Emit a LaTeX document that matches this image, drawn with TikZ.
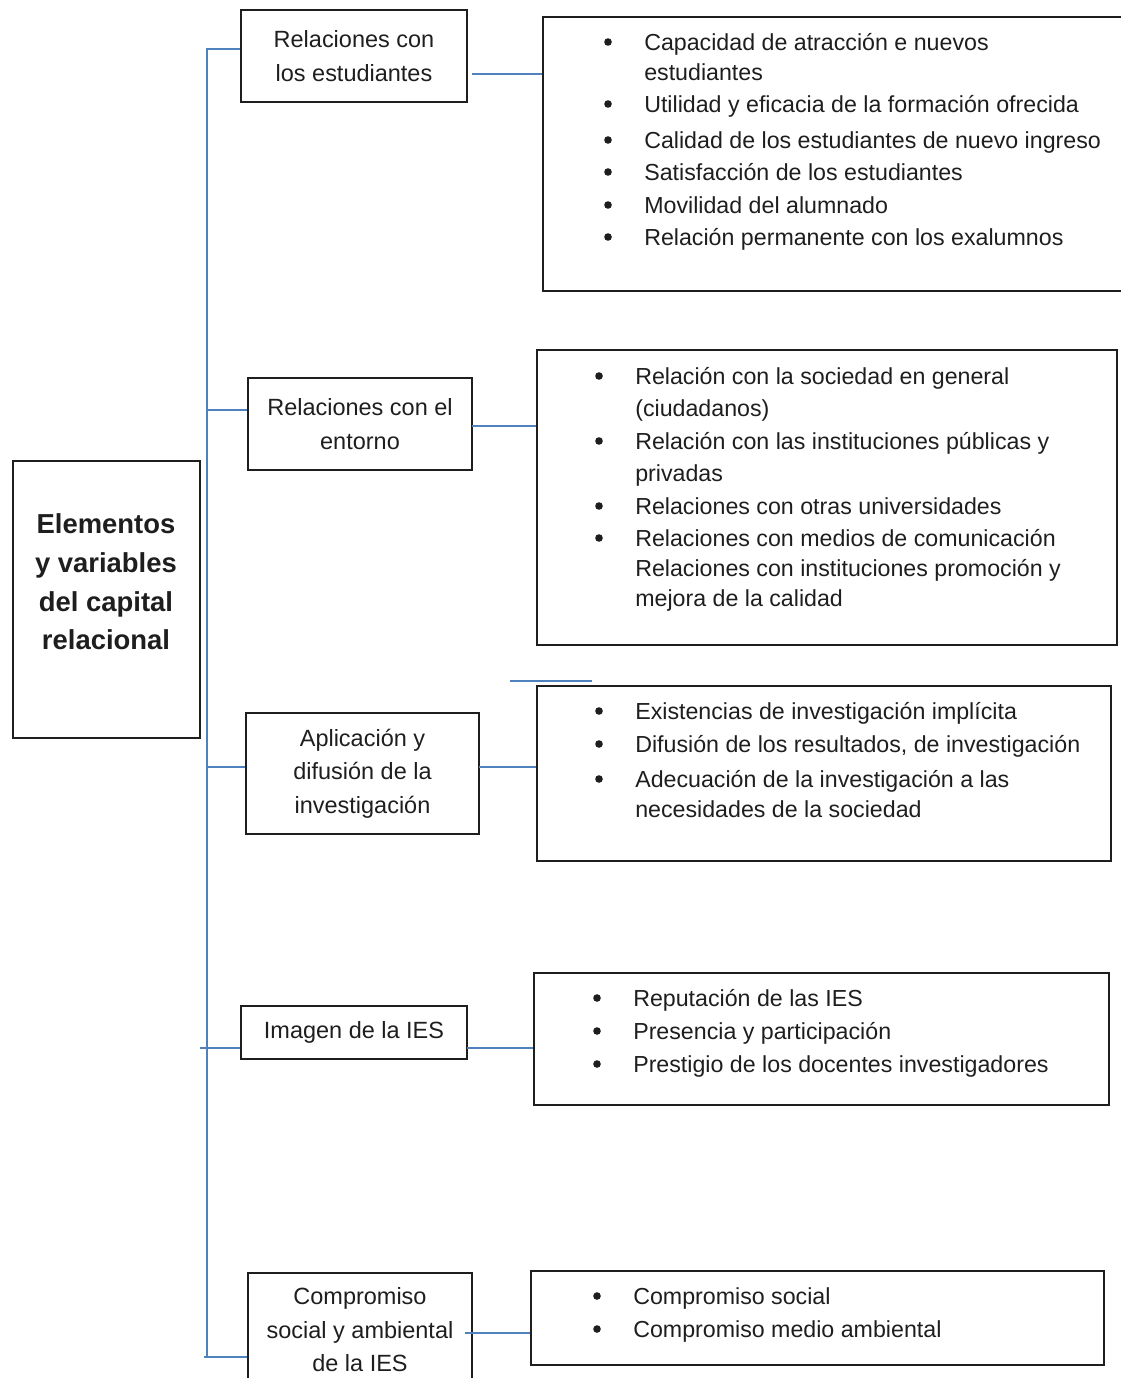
\documentclass[tikz,border=0pt]{standalone}
\usepackage{fontspec}
\setmainfont{Liberation Sans}
\usetikzlibrary{calc}

\definecolor{blueline}{RGB}{79,129,189}
\definecolor{ink}{RGB}{30,30,30}

\begin{document}
\begin{tikzpicture}[x=0.025cm, y=-0.025cm]
  % --- Stili ---
  \tikzset{
    box/.style={draw=ink, line width=1.4pt, align=center, inner sep=0pt, text=ink,
      font=\fontsize{16.7}{23.8}\selectfont},
    mainbox/.style={draw=ink, line width=1.4pt, inner sep=0pt},
    mainlabel/.style={align=center, inner sep=0pt, text=ink,
      font=\fontsize{19.5}{27.5}\selectfont\bfseries},
    list/.style={draw=ink, line width=1.4pt, inner sep=0pt},
    item/.style={anchor=mid west, inner sep=0pt, text=ink, yshift=-0.12cm,
      font=\fontsize{16.5}{20}\selectfont},
    link/.style={draw=blueline, line width=1.4pt},
  }
  \useasboundingbox (0,0) rectangle (1120,1378);

  % --- Blocco principale ---
  \node[mainbox, minimum width=4.675cm, minimum height=6.925cm] (main) at (106.5,599.5) {};
  \node[mainlabel] (mainlbl) at (106,582) {Elementos\\y variables\\del capital\\relacional};

  % --- Dimensioni ---
  \node[box, minimum width=5.65cm, minimum height=2.3cm] (b1) at (354,56) {Relaciones con\\los estudiantes};
  \node[box, minimum width=5.6cm, minimum height=2.3cm] (b2) at (360,424) {Relaciones con el\\entorno};
  \node[box, minimum width=5.825cm, minimum height=3.025cm] (b3) at (362.5,773.5) {Aplicación y\\difusión de la\\investigación};
  \node[box, minimum width=5.65cm, minimum height=1.325cm] (b4) at (354,1032.5) {Imagen de la IES};
  \node[box, minimum width=5.6cm, minimum height=2.85cm] (b5) at (360,1330) {Compromiso\\social y ambiental\\de la IES};

  % --- Riquadri delle variabili ---
  \node[list, minimum width=14.675cm, minimum height=6.85cm] (d1) at (836.5,154) {};
  \node[list, minimum width=14.5cm, minimum height=7.375cm] (d2) at (827,497.5) {};
  \node[list, minimum width=14.35cm, minimum height=4.375cm] (d3) at (824,773.5) {};
  \node[list, minimum width=14.375cm, minimum height=3.3cm] (d4) at (821.5,1039) {};
  \node[list, minimum width=14.325cm, minimum height=2.35cm] (d5) at (817.5,1318) {};

  % --- Voci ---
  \foreach \y/\bul/\txt in {42/1/{Capacidad de atracción e nuevos}, 72/0/estudiantes,
      104/1/{Utilidad y eficacia de la formación ofrecida},
      140/1/{Calidad de los estudiantes de nuevo ingreso},
      172/1/{Satisfacción de los estudiantes}, 205/1/{Movilidad del alumnado},
      237/1/{Relación permanente con los exalumnos}} {
    \node[item] (e1-\y) at (644,\y) {\txt};
    \ifnum\bul=1 \fill[ink] (608,\y) circle[radius=0.095cm]; \fi
  }
  \foreach \y/\bul/\txt in {376/1/{Relación con la sociedad en general}, 408/0/(ciudadanos),
      441/1/{Relación con las instituciones públicas y}, 473/0/privadas,
      506/1/{Relaciones con otras universidades},
      538/1/{Relaciones con medios de comunicación},
      568/0/{Relaciones con instituciones promoción y}, 598/0/{mejora de la calidad}} {
    \node[item] (e2-\y) at (635,\y) {\txt};
    \ifnum\bul=1 \fill[ink] (599,\y) circle[radius=0.095cm]; \fi
  }
  \foreach \y/\bul/\txt in {711/1/{Existencias de investigación implícita},
      744/1/{Difusión de los resultados, de investigación},
      779/1/{Adecuación de la investigación a las}, 809/0/{necesidades de la sociedad}} {
    \node[item] (e3-\y) at (635,\y) {\txt};
    \ifnum\bul=1 \fill[ink] (599,\y) circle[radius=0.095cm]; \fi
  }
  \foreach \y/\bul/\txt in {998/1/{Reputación de las IES}, 1031/1/{Presencia y participación},
      1064/1/{Prestigio de los docentes investigadores}} {
    \node[item] (e4-\y) at (633,\y) {\txt};
    \ifnum\bul=1 \fill[ink] (597,\y) circle[radius=0.095cm]; \fi
  }
  \foreach \y/\bul/\txt in {1296/1/{Compromiso social}, 1329/1/{Compromiso medio ambiental}} {
    \node[item] (e5-\y) at (633,\y) {\txt};
    \ifnum\bul=1 \fill[ink] (597,\y) circle[radius=0.095cm]; \fi
  }

  % --- Collegamenti ---
  \coordinate (t1) at (207,49);
  \coordinate (t2) at (207,410);
  \coordinate (t3) at (207,767);
  \coordinate (t4) at (200,1048);
  \coordinate (t5) at (204,1357);
  \draw[link] (t1 -| b1.west) -- (t1) -- (t1 |- t5);
  \draw[link] (t2) -- (t2 -| b2.west);
  \draw[link] (t3) -- (t3 -| b3.west);
  \draw[link] (t4) -- (t4 -| b4.west);
  \draw[link] (t5) -- (t5 -| b5.west);

  \coordinate (r1) at (472,74);
  \coordinate (r2) at (472,426);
  \coordinate (r3) at (479,767);
  \coordinate (r4) at (467,1048);
  \coordinate (r5) at (465,1333);
  \draw[link] (r1) -- (r1 -| d1.west);
  \draw[link] (r2) -- (r2 -| d2.west);
  \draw[link] (r3) -- (r3 -| d3.west);
  \draw[link] (r4) -- (r4 -| d4.west);
  \draw[link] (r5) -- (r5 -| d5.west);

  \coordinate (s1) at (510,681);
  \coordinate (s2) at (592,681);
  \draw[link] (s1) -- (s2);
\end{tikzpicture}
\end{document}
